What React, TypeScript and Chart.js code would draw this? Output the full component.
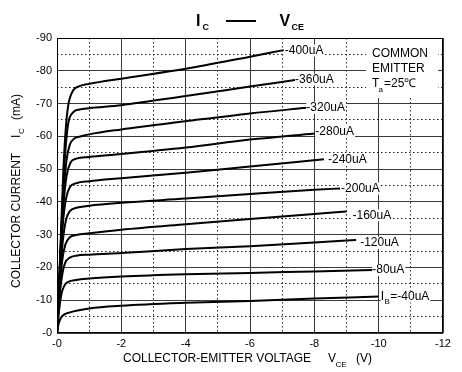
import React, { useEffect, useRef } from 'react';
import { Chart, registerables } from 'chart.js';

Chart.register(...registerables);

const FONT = "'Liberation Sans', Arial, Helvetica, sans-serif";

// [VCE (V), IC (mA)] pairs for each base current curve
const ib400 = [[0, 0], [-0.1, -24], [-0.2, -50], [-0.27, -62], [-0.35, -69.5], [-0.5, -74], [-0.7, -75.3], [-1, -76], [-2, -77.6], [-4, -80.6], [-6, -84.3], [-7.05, -86.3]];
const ib360 = [[0, 0], [-0.1, -23], [-0.2, -46], [-0.28, -58], [-0.36, -64.5], [-0.5, -67.3], [-0.7, -68.2], [-1, -68.6], [-2, -69.5], [-4, -72.3], [-6, -75.2], [-7.4, -77.2]];
const ib320 = [[0, 0], [-0.1, -22], [-0.2, -42], [-0.3, -53], [-0.4, -57.5], [-0.55, -59.4], [-0.75, -60], [-1, -60.6], [-2, -62.1], [-4, -64.6], [-6, -67], [-7.75, -68.7]];
const ib280 = [[0, 0], [-0.1, -21], [-0.2, -39], [-0.3, -48], [-0.42, -52], [-0.6, -53.2], [-1, -53.7], [-2, -54.6], [-4, -56.6], [-6, -59], [-8, -60.9]];
const ib240 = [[0, 0], [-0.09, -18], [-0.18, -33], [-0.28, -41], [-0.4, -44.5], [-0.6, -45.7], [-1, -46.3], [-2, -47.2], [-4, -48.9], [-6, -50.8], [-8.3, -53]];
const ib200 = [[0, 0], [-0.09, -16], [-0.18, -28], [-0.28, -34.5], [-0.4, -37.2], [-0.6, -38.2], [-1, -38.8], [-2, -39.7], [-4, -41], [-6, -42.4], [-8, -43.7], [-8.8, -44.1]];
const ib160 = [[0, 0], [-0.08, -13], [-0.16, -22], [-0.26, -27], [-0.4, -29.2], [-0.6, -29.9], [-1, -30.4], [-2, -31.5], [-4, -33.2], [-6, -34.8], [-8, -36.3], [-9, -37.1]];
const ib120 = [[0, 0], [-0.07, -10], [-0.15, -17], [-0.25, -21.3], [-0.4, -23], [-0.6, -23.6], [-1, -23.9], [-2, -24.4], [-4, -25.6], [-6, -26.5], [-8, -27.6], [-9.3, -28.4]];
const ib80 = [[0, 0], [-0.06, -6.5], [-0.13, -11.5], [-0.22, -14.3], [-0.35, -15.6], [-0.6, -16.2], [-1, -16.6], [-2, -17.2], [-4, -17.9], [-6, -18.3], [-8, -18.8], [-9.8, -19.2]];
const ib40 = [[0, 0], [-0.05, -2.8], [-0.12, -4.6], [-0.22, -5.6], [-0.4, -6.3], [-0.6, -6.8], [-1, -7.5], [-2, -8.3], [-4, -9.2], [-6, -9.8], [-8, -10.5], [-10, -11.1]];

const curves = [ib400, ib360, ib320, ib280, ib240, ib200, ib160, ib120, ib80, ib40];
const curveLabels = ['-400uA', '-360uA', '-320uA', '-280uA', '-240uA', '-200uA', '-160uA', '-120uA', '-80uA', '=-40uA'];
// label offsets (px) from each curve's end point
const labelDx = [1, 0, 0, 1, 4, 1, 6, 4, 0, 2];
const labelDy = [0.5, -0.5, 0, -2, 0, 0, 4, 3, 0, 0];

const xTickStep = 1;
const yTickStep = 5;

function labelItems(chart: any) {
  const { ctx } = chart;
  const xs = chart.scales.x;
  const ys = chart.scales.y;
  ctx.save();
  ctx.font = `12px ${FONT}`;
  const items = curves.map((c, i) => {
    const end = c[c.length - 1];
    const x = xs.getPixelForValue(end[0]) + labelDx[i];
    const y = ys.getPixelForValue(end[1]) + labelDy[i];
    const isLast = i === curves.length - 1;
    let w = ctx.measureText(curveLabels[i]).width;
    if (isLast) {
      ctx.font = `12px ${FONT}`;
      const wi = ctx.measureText('I').width;
      ctx.font = `8px ${FONT}`;
      const wb = ctx.measureText('B').width;
      ctx.font = `12px ${FONT}`;
      w += wi + wb + 1;
    }
    return { x, y, w, text: curveLabels[i], sub: isLast };
  });
  ctx.restore();
  return items;
}

const annotate = {
  id: 'annotate',
  beforeDatasetsDraw(chart: any) {
    const { ctx } = chart;
    ctx.save();
    ctx.fillStyle = '#fff';
    labelItems(chart).forEach((l) => ctx.fillRect(l.x, l.y - 6, l.w + 1, 12));
    ctx.fillRect(366, 39, 72, 59);
    ctx.restore();
  },
  afterDatasetsDraw(chart: any) {
    const { ctx, chartArea } = chart;
    ctx.save();
    // frame
    ctx.strokeStyle = '#000';
    ctx.lineWidth = 1;
    ctx.strokeRect(Math.round(chartArea.left) + 0.5, Math.round(chartArea.top) + 0.5,
      Math.round(chartArea.right - chartArea.left) - 1, Math.round(chartArea.bottom - chartArea.top) - 1);
    // curve labels
    ctx.fillStyle = '#000';
    ctx.textBaseline = 'middle';
    ctx.textAlign = 'left';
    labelItems(chart).forEach((l) => {
      let x = l.x;
      if (l.sub) {
        ctx.font = `12px ${FONT}`;
        ctx.fillText('I', x, l.y);
        x += ctx.measureText('I').width + 0.5;
        ctx.font = `8px ${FONT}`;
        ctx.fillText('B', x, l.y + 5);
        x += ctx.measureText('B').width + 0.5;
      }
      ctx.font = `12px ${FONT}`;
      ctx.fillText(l.text, x, l.y);
    });
    // note box
    ctx.font = `12px ${FONT}`;
    ctx.fillText('COMMON', 372, 54);
    ctx.fillText('EMITTER', 372, 69);
    ctx.fillText('T', 372, 84);
    ctx.font = `8px ${FONT}`;
    ctx.fillText('a', 378.5, 90);
    ctx.font = `12px ${FONT}`;
    ctx.fillText('=25\u2103', 384, 84);
    ctx.restore();
  },
  afterDraw(chart: any) {
    const { ctx } = chart;
    ctx.save();
    ctx.fillStyle = '#000';
    ctx.textBaseline = 'alphabetic';
    ctx.textAlign = 'left';
    // main title
    ctx.font = `bold 16px ${FONT}`;
    ctx.fillText('I', 196, 26);
    ctx.font = `bold 9px ${FONT}`;
    ctx.fillText('C', 202.5, 30);
    ctx.strokeStyle = '#000';
    ctx.lineWidth = 2;
    ctx.beginPath();
    ctx.moveTo(226, 21);
    ctx.lineTo(256, 21);
    ctx.stroke();
    ctx.font = `bold 16px ${FONT}`;
    ctx.fillText('V', 279.5, 26);
    ctx.font = `bold 9px ${FONT}`;
    ctx.fillText('CE', 291.5, 30);
    // x axis title
    ctx.font = `12px ${FONT}`;
    ctx.fillText('COLLECTOR-EMITTER VOLTAGE', 123, 361.5);
    ctx.fillText('V', 328, 361.5);
    ctx.font = `8px ${FONT}`;
    ctx.fillText('CE', 335.5, 367);
    ctx.font = `12px ${FONT}`;
    ctx.fillText('(V)', 356, 361.5);
    // y axis title
    ctx.translate(19.5, 288);
    ctx.rotate(-Math.PI / 2);
    ctx.font = `12px ${FONT}`;
    ctx.fillText('COLLECTOR CURRENT', 0, 0);
    ctx.fillText('I', 150, 0);
    ctx.font = `8px ${FONT}`;
    ctx.fillText('C', 154, 4.5);
    ctx.font = `12px ${FONT}`;
    ctx.fillText('(mA)', 168, 0);
    ctx.restore();
  },
};

export default function App() {
  const ref = useRef<HTMLCanvasElement>(null);
  useEffect(() => {
    const chart = new Chart(ref.current as HTMLCanvasElement, {
      type: 'line',
      data: {
        datasets: curves.map((c) => ({
          data: c.map(([x, y]) => ({ x, y })),
          borderColor: '#000',
          borderWidth: 2,
          pointRadius: 0,
          fill: false,
          cubicInterpolationMode: 'monotone' as const,
        })),
      },
      options: {
        responsive: false,
        animation: false,
        layout: { padding: { left: 0, top: 38, right: 19, bottom: 0 } },
        plugins: { legend: { display: false }, tooltip: { enabled: false }, title: { display: false } },
        scales: {
          x: {
            type: 'linear',
            min: -12,
            max: 0,
            reverse: true,
            afterFit: (s: any) => { s.height = 39; },
            ticks: {
              stepSize: xTickStep,
              autoSkip: false,
              maxRotation: 0,
              padding: 4,
              color: '#000',
              font: { family: FONT, size: 11 },
              callback: (v: any) => (v === 0 ? '-0' : v % 2 === 0 ? String(v) : ''),
            },
            grid: {
              drawTicks: false,
              lineWidth: 1,
              color: (c: any) => (c.tick && c.tick.value % 2 !== 0 ? '#222' : '#3a3a3a'),
            },
            border: {
              display: false,
              dash: (c: any) => (c.tick && c.tick.value % 2 !== 0 ? [1.5, 2.5] : []),
            },
          },
          y: {
            type: 'linear',
            min: -90,
            max: 0,
            reverse: true,
            afterFit: (s: any) => { s.width = 57; },
            ticks: {
              stepSize: yTickStep,
              autoSkip: false,
              padding: 5,
              color: '#000',
              font: { family: FONT, size: 11 },
              callback: (v: any) => (v === 0 ? '-0' : v % 10 === 0 ? String(v) : ''),
            },
            grid: {
              drawTicks: false,
              lineWidth: 1,
              color: (c: any) => (c.tick && c.tick.value % 10 !== 0 ? '#222' : '#3a3a3a'),
            },
            border: {
              display: false,
              dash: (c: any) => (c.tick && c.tick.value % 10 !== 0 ? [1.5, 2.5] : []),
            },
          },
        },
      },
      plugins: [annotate],
    } as any);
    return () => chart.destroy();
  }, []);
  return (
    <div style={{ position: 'fixed', left: 0, top: 0, width: 462, height: 372, background: '#fff' }}>
      <canvas ref={ref} width={462} height={372} style={{ display: 'block' }} />
    </div>
  );
}
